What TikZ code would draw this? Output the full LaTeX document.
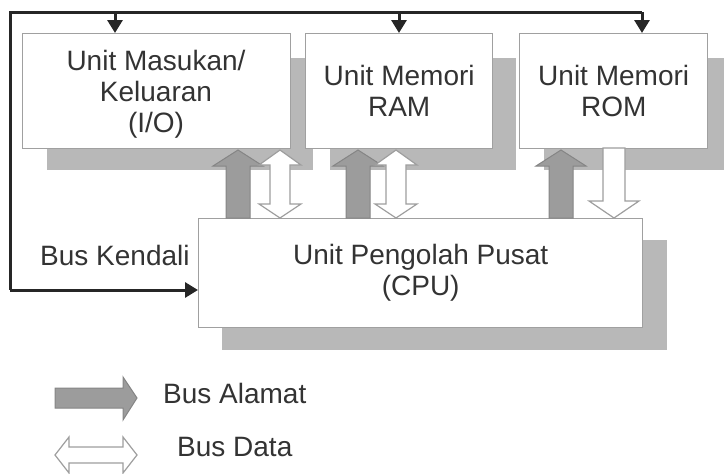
\documentclass[tikz,border=0pt]{standalone}
\usepackage{fontspec}
\setmainfont{Liberation Sans}
\usetikzlibrary{arrows.meta,calc}
\definecolor{txt}{HTML}{333333}
\definecolor{shd}{HTML}{B8B8B8}
\definecolor{adrfill}{HTML}{9C9C9C}
\definecolor{adrline}{HTML}{858585}
\definecolor{datline}{HTML}{9E9E9E}
\definecolor{boxline}{HTML}{A0A0A0}
\tikzset{
  box/.style={draw=boxline, line width=1.4pt, fill=white, anchor=north west, inner sep=0pt,
    text=txt, align=center, font=\fontsize{28}{31}\selectfont},
  shadowfill/.style={fill=shd},
  ctl/.style={draw=black!85, line width=3pt, line join=miter},
  ctlarrow/.style={ctl, -{Triangle[length=13pt,width=15pt]}},
  addr/.style={fill=adrfill, draw=adrline, line width=1pt, line join=miter},
  dat/.style={fill=white, draw=datline, line width=1.2pt, line join=miter},
  lbl/.style={text=txt, font=\fontsize{28}{31}\selectfont, inner sep=0pt}
}
% up arrow: cx, tip y, base y
\newcommand{\addrup}[3]{\filldraw[addr] ({#1-12},#3) -- ({#1-12},{#2+16}) -- ({#1-25},{#2+16}) -- (#1,#2) -- ({#1+25},{#2+16}) -- ({#1+12},{#2+16}) -- ({#1+12},#3) -- cycle;}
% double vertical arrow: cx, top y, bottom y
\newcommand{\datboth}[3]{\filldraw[dat] ({#1-10},{#2+15}) -- ({#1-21},{#2+15}) -- (#1,#2) -- ({#1+21},{#2+15}) -- ({#1+10},{#2+15}) -- ({#1+10},{#3-14}) -- ({#1+21},{#3-14}) -- (#1,#3) -- ({#1-21},{#3-14}) -- ({#1-10},{#3-14}) -- cycle;}
% down arrow: cx, top y, tip y
\newcommand{\datdown}[3]{\filldraw[dat] ({#1-11},#2) -- ({#1+11},#2) -- ({#1+11},{#3-17}) -- ({#1+25},{#3-17}) -- (#1,#3) -- ({#1-25},{#3-17}) -- ({#1-11},{#3-17}) -- cycle;}
\begin{document}
\begin{tikzpicture}[x=1pt,y=-1pt]
\useasboundingbox (0,0) rectangle (724,474);
% shadows
\fill[shadowfill] (47,58) rectangle (313,170);
\fill[shadowfill] (330,58) rectangle (516,170);
\fill[shadowfill] (544,58) rectangle (732,170);
\fill[shadowfill] (222,240) rectangle (667,350);
% boxes
\node[box, minimum width=268pt, minimum height=115pt] (io) at (22,33) {};
\node[text=txt, align=center, font=\fontsize{28}{31}\selectfont] (iotext) at (156,94) {Unit Masukan/\\Keluaran\\(I/O)};
\node[box, minimum width=187pt, minimum height=115pt] (ram) at (305,33) {Unit Memori\\RAM};
\node[box, minimum width=188pt, minimum height=115pt] (rom) at (519,33) {Unit Memori\\ROM};
\node[box, minimum width=444pt, minimum height=109pt] (cpu) at (198,218) {Unit Pengolah Pusat\\(CPU)};
% bus arrows
\addrup{238}{150}{218}
\datboth{280}{150}{218}
\addrup{358}{150}{218}
\datboth{396}{150}{218}
\addrup{561}{150}{218}
\datdown{614}{148}{218}
% control bus
\coordinate (tl) at (10,12);
\coordinate (tr) at (642,12);
\coordinate (bl) at (10,290);
\coordinate (cpuin) at (198,290);
\coordinate (ioin) at (115,33);
\coordinate (ramin) at (399,33);
\coordinate (romin) at (642,33);
\draw[ctl] (tr) -- (tl) -- (bl);
\draw[ctlarrow] (bl) -- (cpuin);
\draw[ctlarrow] (ioin |- tl) -- (ioin);
\draw[ctlarrow] (ramin |- tl) -- (ramin);
\draw[ctlarrow] (tr) -- (romin);
\node[lbl, anchor=west] (kendali) at (40,255) {Bus Kendali};
% legend
\filldraw[addr] (55,388) -- (123,388) -- (123,377) -- (137,398) -- (123,420) -- (123,408) -- (55,408) -- cycle;
\node[lbl, anchor=west] (alamat) at (163,393) {Bus Alamat};
\filldraw[dat] (69,447) -- (123,447) -- (123,437) -- (137,455) -- (123,473) -- (123,463) -- (69,463) -- (69,473) -- (55,455) -- (69,437) -- cycle;
\node[lbl, anchor=west] (data) at (177,447) {Bus Data};
\end{tikzpicture}
\end{document}
